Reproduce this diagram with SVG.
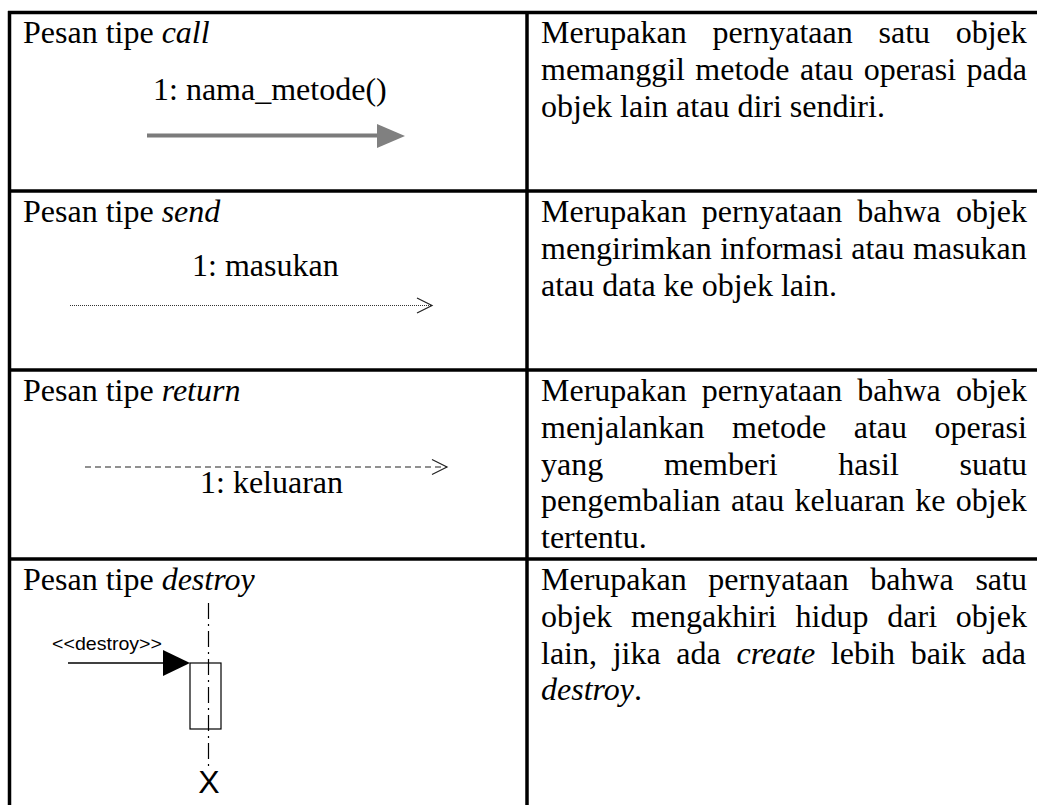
<svg xmlns="http://www.w3.org/2000/svg" width="1037" height="805" viewBox="0 0 1037 805">
<style>
.t{font-family:"Liberation Serif","Times New Roman",serif;font-size:32px;fill:#000}
.i{font-style:italic}
.s{font-family:"Liberation Sans",Arial,sans-serif;fill:#000}
.grid{stroke:#000;stroke-width:3.5;fill:none}
.open{fill:none;stroke:#222;stroke-width:1.2}
</style>
<defs>
<marker id="openArrow" markerUnits="userSpaceOnUse" markerWidth="20" markerHeight="20" refX="16" refY="8" orient="auto" viewBox="0 0 20 16">
<polyline points="1,0.5 16,8 1,15.5" class="open"/>
</marker>
</defs>
<rect width="1037" height="805" fill="#fff"/>
<g id="table">
<line class="grid" x1="8" y1="12.5" x2="1037" y2="12.5"/>
<line class="grid" x1="9.5" y1="11" x2="9.5" y2="805"/>
<line class="grid" x1="527" y1="11" x2="527" y2="805"/>
<line class="grid" x1="8" y1="191" x2="1037" y2="191"/>
<line class="grid" x1="8" y1="370" x2="1037" y2="370"/>
<line class="grid" x1="8" y1="559" x2="1037" y2="559"/>
</g>
<g id="row-call">
<text class="t" x="23" y="43">Pesan tipe <tspan class="i">call</tspan></text>
<text class="t" x="153" y="100">1: nama_metode()</text>
<text class="t" x="541" y="43" word-spacing="17.7">Merupakan pernyataan satu objek</text>
<text class="t" x="541" y="80" word-spacing="2.4">memanggil metode atau operasi pada</text>
<text class="t" x="541" y="117">objek lain atau diri sendiri.</text>
</g>
<g id="row-send">
<text class="t" x="23" y="222">Pesan tipe <tspan class="i">send</tspan></text>
<text class="t" x="192" y="276">1: masukan</text>
<text class="t" x="541" y="222" word-spacing="7.1">Merupakan pernyataan bahwa objek</text>
<text class="t" x="541" y="259" word-spacing="0.5">mengirimkan informasi atau masukan</text>
<text class="t" x="541" y="296">atau data ke objek lain.</text>
</g>
<g id="row-return">
<text class="t" x="23" y="401">Pesan tipe <tspan class="i">return</tspan></text>
<text class="t" x="200" y="493">1: keluaran</text>
<text class="t" x="541" y="401" word-spacing="7.1">Merupakan pernyataan bahwa objek</text>
<text class="t" x="541" y="438" word-spacing="19.5">menjalankan metode atau operasi</text>
<text class="t" x="541" y="475" word-spacing="52.7">yang memberi hasil suatu</text>
<text class="t" x="541" y="511" word-spacing="2.4">pengembalian atau keluaran ke objek</text>
<text class="t" x="541" y="548">tertentu.</text>
</g>
<g id="row-destroy">
<text class="t" x="23" y="590">Pesan tipe <tspan class="i">destroy</tspan></text>
<text class="t" x="541" y="590" word-spacing="13.6">Merupakan pernyataan bahwa satu</text>
<text class="t" x="541" y="627" word-spacing="10.85">objek mengakhiri hidup dari objek</text>
<text class="t" x="541" y="664" word-spacing="7.7">lain, jika ada <tspan class="i">create</tspan> lebih baik ada</text>
<text class="t" x="541" y="700"><tspan class="i">destroy</tspan>.</text>
<text class="s" x="52" y="650" font-size="19" textLength="110" lengthAdjust="spacingAndGlyphs">&lt;&lt;destroy&gt;&gt;</text>
<rect x="190" y="663" width="31" height="66" fill="none" stroke="#000" stroke-width="1.2"/>
<line x1="208.5" y1="603" x2="208.5" y2="767" stroke="#000" stroke-width="1.2" stroke-dasharray="16 5 2 5"/>
<text class="s" x="209" y="793" font-size="32" text-anchor="middle">X</text>
</g>
<g id="connectors">
<line x1="147" y1="135.5" x2="379" y2="135.5" stroke="#7b7b7b" stroke-width="4"/>
<polygon points="377,124 405,136 377,148" fill="#808080"/>
<line x1="70" y1="305.5" x2="432" y2="305.5" stroke="#333" stroke-width="1" stroke-dasharray="1 1" marker-end="url(#openArrow)"/>
<line x1="85" y1="467" x2="447" y2="467" stroke="#222" stroke-width="1.2" stroke-dasharray="6 4" marker-end="url(#openArrow)"/>
<line x1="68" y1="663" x2="165" y2="663" stroke="#000" stroke-width="1.5"/>
<polygon points="163,650 190,663 163,676" fill="#000"/>
</g>
</svg>
